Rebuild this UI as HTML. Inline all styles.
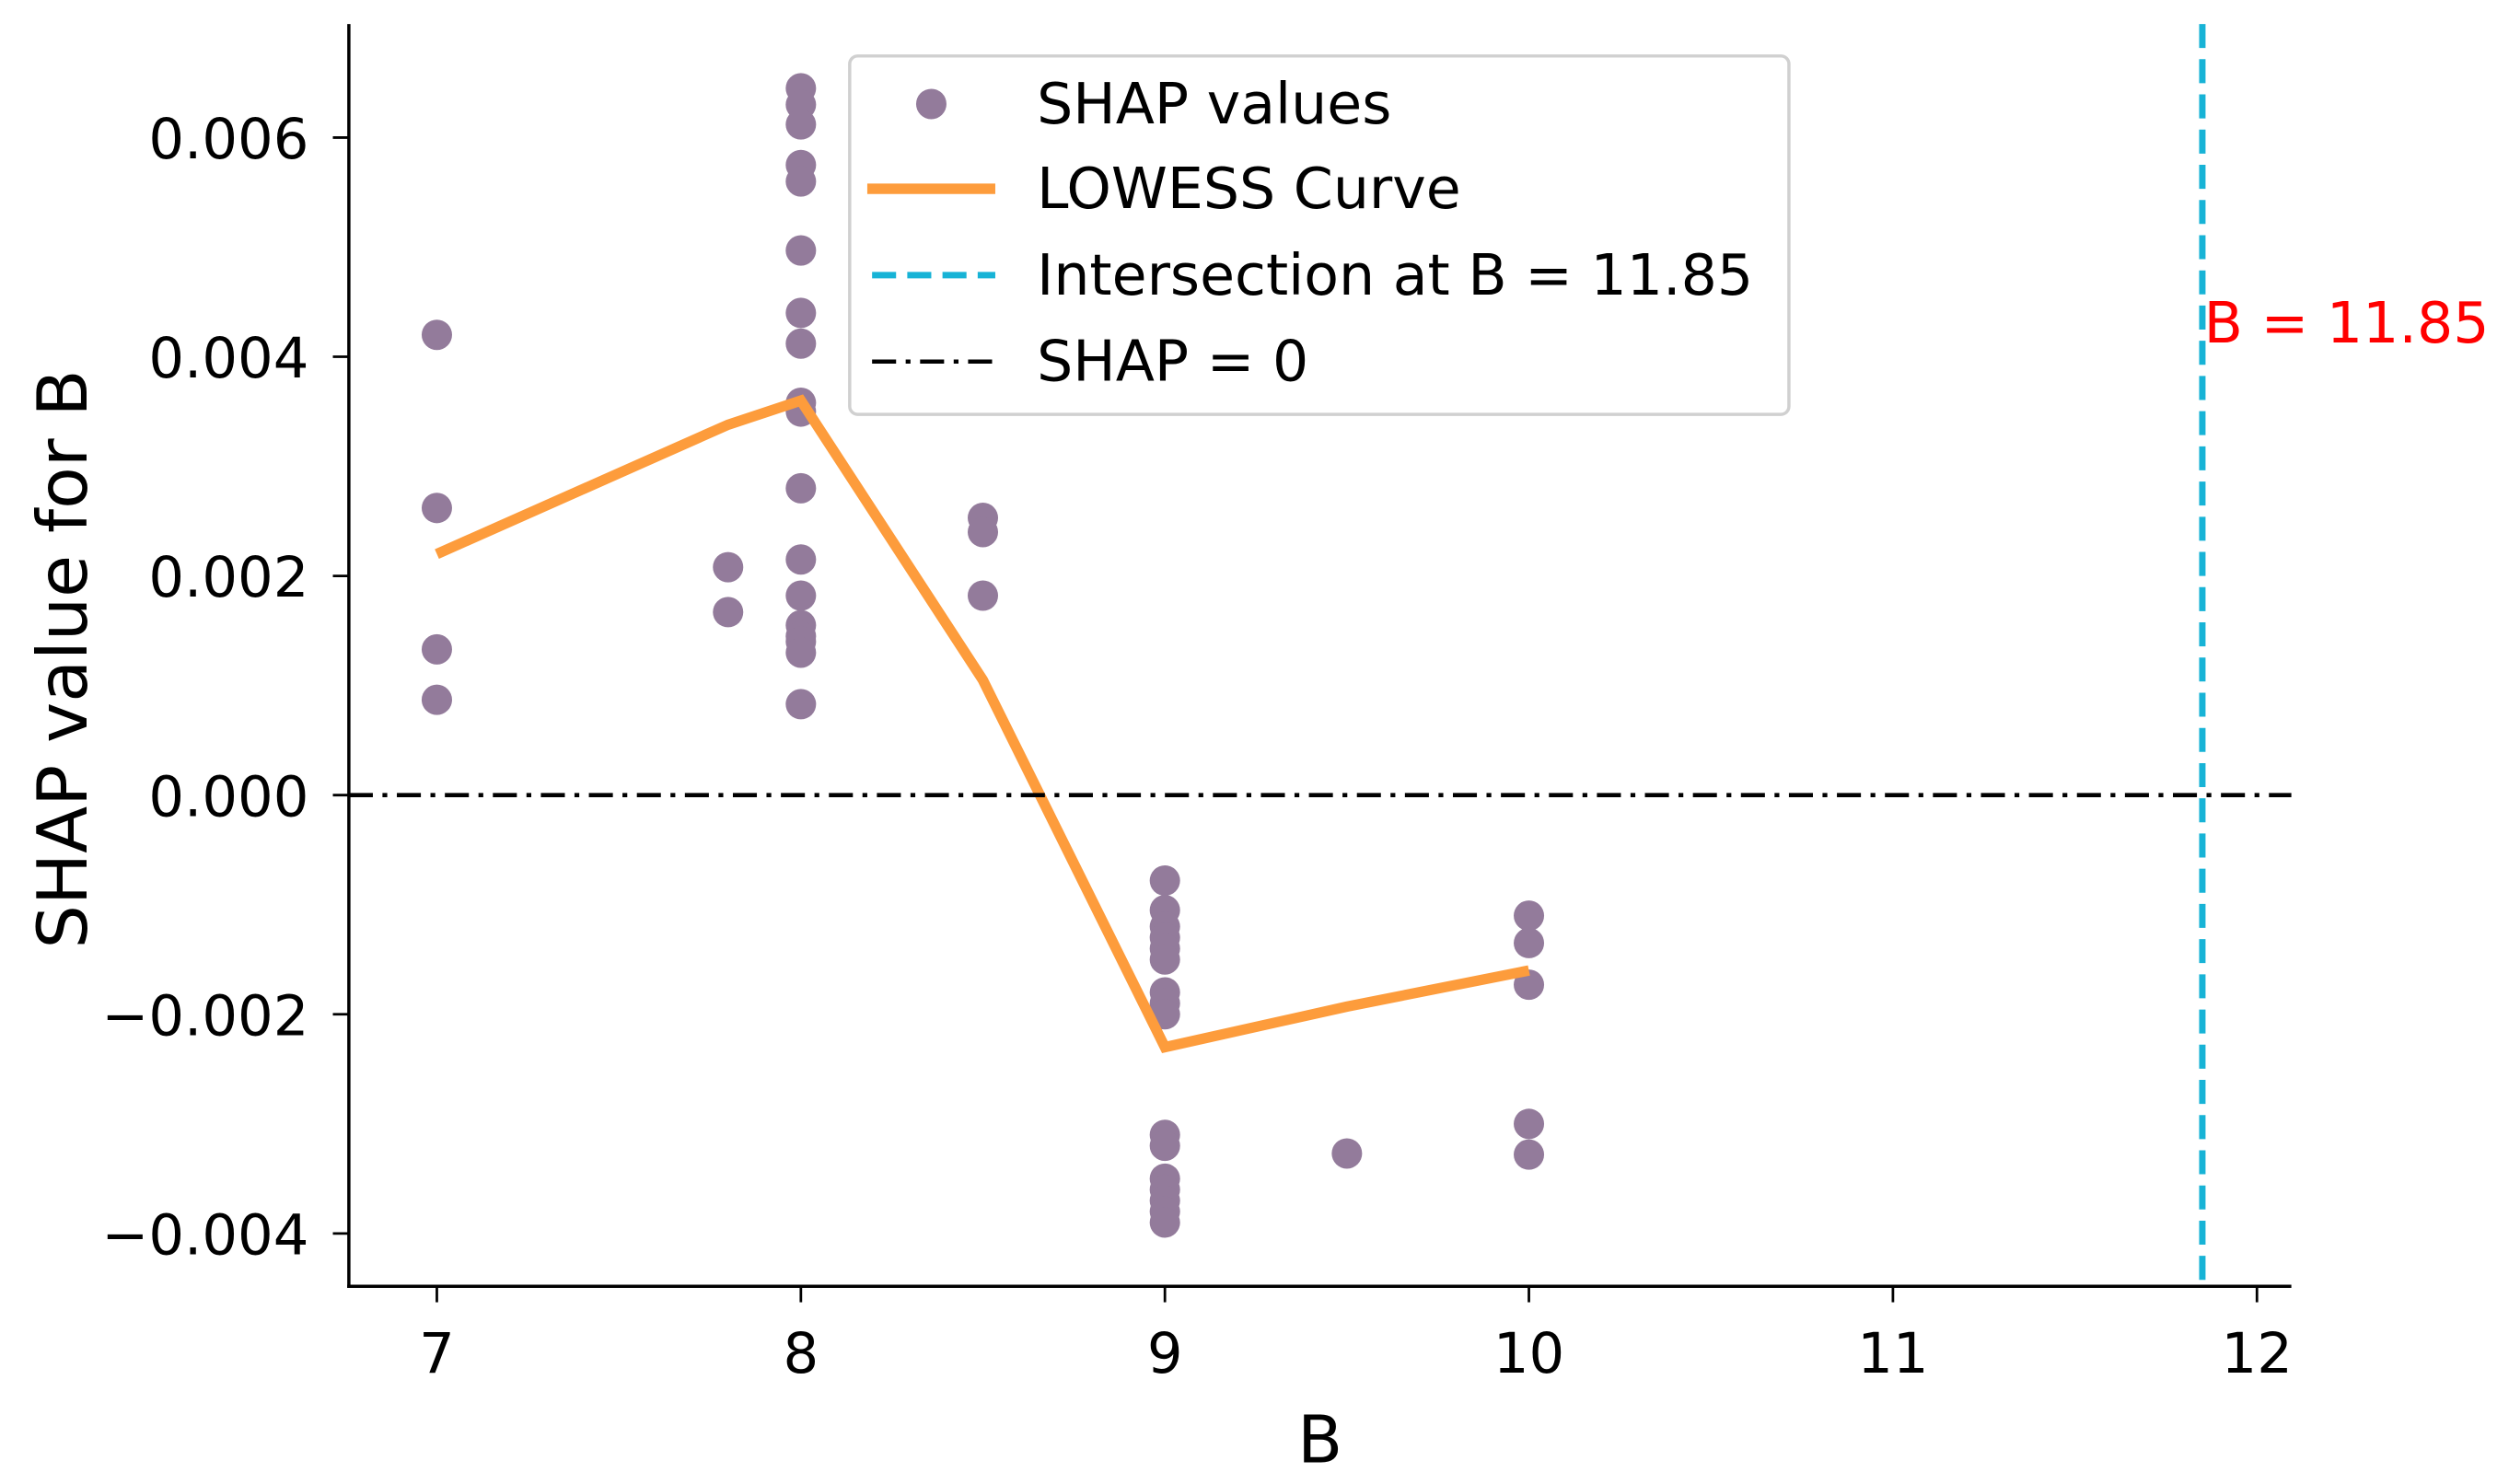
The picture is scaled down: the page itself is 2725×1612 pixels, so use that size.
<!DOCTYPE html>
<html><head><meta charset="utf-8"><style>
html,body{margin:0;padding:0;background:#fff;}
svg{display:block;}
text{font-family:"DejaVu Sans","Liberation Sans",sans-serif;}
</style></head>
<body>
<svg id="chart" width="2725" height="1612" viewBox="0 0 1568 927.6" xmlns="http://www.w3.org/2000/svg">
<g id="plot"></g>
</svg>
<script>
const xTicks = [7, 8, 9, 10, 11, 12];
const yTicks = [0.006, 0.004, 0.002, 0, -0.002, -0.004];
const yTickLabels = ["0.006", "0.004", "0.002", "0.000", "\u22120.002", "\u22120.004"];
const pointX = [7,7,7,7, 7.8,7.8,
  8,8,8,8,8,8,8,8,8,8,8,8,8,8,8,8,8,8,
  8.5,8.5,8.5,
  9,9,9,9,9,9,9,9,9,9,9,9,9,9,9,9,
  9.5,
  10,10,10,10,10];
const pointY = [0.0042,0.00262,0.00133,0.00087, 0.00208,0.00167,
  0.00645,0.0063,0.00612,0.00575,0.0056,0.00497,0.0044,0.00412,0.00358,0.0035,0.0028,0.00215,0.00182,0.00155,0.00145,0.0014,0.0013,0.00083,
  0.00253,0.0024,0.00182,
  -0.00078,-0.00105,-0.0012,-0.0013,-0.0014,-0.0015,-0.0018,-0.0019,-0.002,-0.0031,-0.0032,-0.0035,-0.0036,-0.0037,-0.0038,-0.0039,
  -0.00327,
  -0.0011,-0.00135,-0.00173,-0.003,-0.00328];
const lowessX = [7, 7.8, 8, 8.5, 9, 9.5, 10];
const lowessY = [0.0022, 0.00338, 0.0036, 0.00105, -0.0023, -0.00193, -0.0016];
const intersectX = [11.85];

const L=218, R=1432, T=15, B=804;
const X0=7, PX0=273, PXU=227.5;
const Y0=0, PY0=497, PYU=68500;
function sx(v){return PX0+(v-X0)*PXU;}
function sy(v){return PY0-(v-Y0)*PYU;}
const NS="http://www.w3.org/2000/svg";
const g=document.getElementById('plot');
function mk(tag,attrs,parent){const e=document.createElementNS(NS,tag);for(const k in attrs)e.setAttribute(k,attrs[k]);(parent||g).appendChild(e);return e;}

pointX.forEach((x,i)=>{
  const c=mk('circle',{cx:sx(x),cy:sy(pointY[i]),r:9.5,fill:'#937b9b'});
  
  
});
const lp=mk('polyline',{points:lowessX.map((x,i)=>sx(x)+','+sy(lowessY[i])).join(' '),fill:'none',stroke:'#fd9c3c','stroke-width':6.5,'stroke-linejoin':'miter'});


const zl=mk('line',{x1:L,x2:R,y1:sy(0),y2:sy(0),stroke:'#000','stroke-width':2.6,'stroke-dasharray':'15 6 3 6'});


intersectX.forEach(v=>{
  const vl=mk('line',{x1:sx(v),x2:sx(v),y1:T,y2:B,stroke:'#17b3d6','stroke-width':4,'stroke-dasharray':'15 7'});
  
  
  const t=mk('text',{x:sx(v)+1,y:214,fill:'#ff0000','font-size':35.5});
  t.textContent='B = '+v.toFixed(2);
  
  
});
const ls=mk('line',{x1:L,x2:L,y1:T,y2:B+1,stroke:'#000','stroke-width':2});


const bs=mk('line',{x1:L-1,x2:R,y1:B,y2:B,stroke:'#000','stroke-width':2});


xTicks.forEach(v=>{
  const tk=mk('line',{x1:sx(v),x2:sx(v),y1:B,y2:B+10,stroke:'#000','stroke-width':1.6});
  
  
  const t=mk('text',{x:sx(v),y:858,'text-anchor':'middle','font-size':35});
  t.textContent=String(v);
  
  
});
yTicks.forEach((v,i)=>{
  const tk=mk('line',{x1:L-10,x2:L,y1:sy(v),y2:sy(v),stroke:'#000','stroke-width':1.6});
  
  
  const t=mk('text',{x:193,y:sy(v)+13,'text-anchor':'end','font-size':35});
  t.textContent=yTickLabels[i];
  
  
});
const xt=mk('text',{x:825,y:914,'text-anchor':'middle','font-size':41});
xt.textContent='B';


const yt=mk('text',{x:0,y:0,'text-anchor':'middle','font-size':43,transform:'translate(54,412) rotate(-90)'});
yt.textContent='SHAP value for B';


const lg=mk('g',{});


mk('rect',{x:531,y:35,width:587,height:224,rx:5,fill:'#fff','fill-opacity':0.85,stroke:'#d0d0d0','stroke-width':2},lg);
const entries=['SHAP values','LOWESS Curve','Intersection at B = 11.85','SHAP = 0'];
const ey=[65,118,172,226];
mk('circle',{cx:582,cy:ey[0],r:9.5,fill:'#937b9b'},lg);
mk('line',{x1:542,x2:622,y1:ey[1],y2:ey[1],stroke:'#fd9c3c','stroke-width':6.5},lg);
mk('line',{x1:545,x2:622,y1:ey[2],y2:ey[2],stroke:'#17b3d6','stroke-width':4,'stroke-dasharray':'15 7'},lg);
mk('line',{x1:545,x2:622,y1:ey[3],y2:ey[3],stroke:'#000','stroke-width':2.6,'stroke-dasharray':'15 6 3 6'},lg);
entries.forEach((s,i)=>{
  const t=mk('text',{x:648,y:ey[i]+12,'font-size':35.5},lg);
  t.textContent=s;
  
  
});
</script>
</body></html>
